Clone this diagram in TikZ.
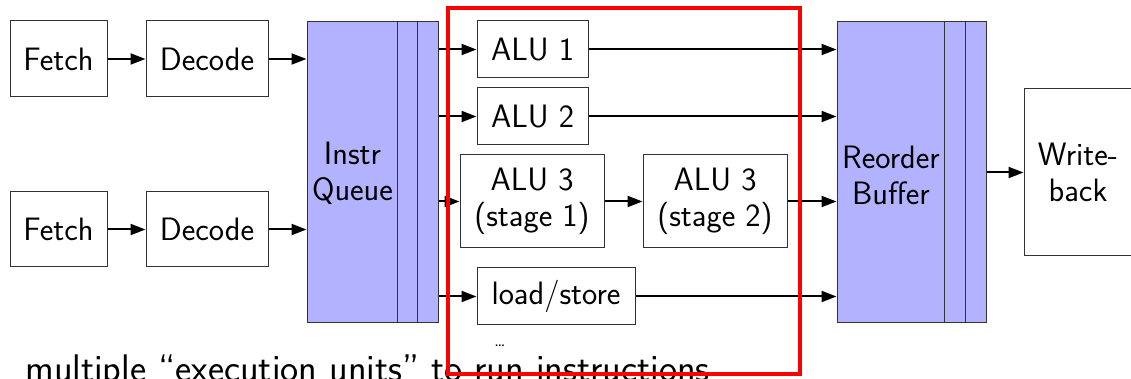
\documentclass[tikz,border=0pt]{standalone}
\usetikzlibrary{arrows.meta}
\begin{document}
\begin{tikzpicture}[x=0.5pt,y=-0.5pt,
  font=\sffamily\fontsize{16.2}{18}\selectfont,
  blk/.style={draw=black!80, line width=0.5pt, fill=white, inner sep=0pt, align=center},
  buf/.style={draw=black!80, line width=0.5pt, fill=blue!30, inner sep=0pt},
  arr/.style={-{Triangle[length=7.5pt,width=5.5pt]}, line width=1pt},
  hilite/.style={draw=red, line width=2pt, inner sep=0pt},
]
\clip (0,0) rectangle (1131,379);

% front end: two fetch/decode pipelines
\node[blk, minimum width=48.5pt, minimum height=38pt]   (f1) at (58.5,59)   {Fetch};
\node[blk, minimum width=61pt,   minimum height=38pt]   (d1) at (207,59)    {Decode};
\node[blk, minimum width=48.5pt, minimum height=37.5pt] (f2) at (58.5,229.5) {Fetch};
\node[blk, minimum width=61pt,   minimum height=37.5pt] (d2) at (207,229.5) {Decode};

% instruction queue with its slot dividers
\node[buf, minimum width=65.5pt, minimum height=150.75pt] (q) at (372.5,172.25) {};
\draw[draw=black!80, line width=0.5pt] ([xshift=45.5pt]q.north west) -- ([xshift=45.5pt]q.south west);
\draw[draw=black!80, line width=0.5pt] ([xshift=55.5pt]q.north west) -- ([xshift=55.5pt]q.south west);
\node[align=center] (qt) at (352.5,173) {Instr\\Queue};

% execution units
\node[blk, minimum width=55.5pt, minimum height=28.5pt] (a1)  at (532.5,49.5)  {ALU 1};
\node[blk, minimum width=55.5pt, minimum height=28.5pt] (a2)  at (532.5,116.5) {ALU 2};
\node[blk, minimum width=72pt,   minimum height=46.5pt] (a3a) at (532,201.5)   {ALU 3\\(stage 1)};
\node[blk, minimum width=72pt,   minimum height=46.5pt] (a3b) at (715,201.5)   {ALU 3\\(stage 2)};
\node[blk, minimum width=79pt,   minimum height=28.5pt] (ls)  at (556,296.5)   {load/store};
\node[font=\sffamily\fontsize{9}{10}\selectfont, inner sep=0pt] (dots) at (500,346) {\ldots};

% reorder buffer with its slot dividers
\node[buf, minimum width=74.5pt, minimum height=150.75pt] (rob) at (911.5,172.25) {};
\draw[draw=black!80, line width=0.5pt] ([xshift=54pt]rob.north west) -- ([xshift=54pt]rob.south west);
\draw[draw=black!80, line width=0.5pt] ([xshift=64.5pt]rob.north west) -- ([xshift=64.5pt]rob.south west);
\node[align=center] (rt) at (891,175) {Reorder\\Buffer};

% write-back stage
\node[blk, minimum width=54pt, minimum height=83.5pt] (wb) at (1078,172.5) {Write-\\back};

% connections
\draw[arr] (f1) -- (d1);
\draw[arr] (f2) -- (d2);
\draw[arr] (d1.east) -- (d1.east -| q.west);
\draw[arr] (d2.east) -- (d2.east -| q.west);
\draw[arr] (a1.west -| q.east) -- (a1.west);
\draw[arr] (a2.west -| q.east) -- (a2.west);
\draw[arr] (a3a.west -| q.east) -- (a3a.west);
\draw[arr] (ls.west -| q.east) -- (ls.west);
\draw[arr] (a1.east) -- (a1.east -| rob.west);
\draw[arr] (a2.east) -- (a2.east -| rob.west);
\draw[arr] (a3a) -- (a3b);
\draw[arr] (a3b.east) -- (a3b.east -| rob.west);
\draw[arr] (ls.east) -- (ls.east -| rob.west);
\draw[arr] (rob.east |- wb.west) -- (wb.west);

% caption
\node[anchor=base west, inner sep=0pt, font=\sffamily\fontsize{19.25}{23}\selectfont] (cap) at (25,382) {multiple ``execution units'' to run instructions};

% highlight around the execution units
\node[hilite, minimum width=176pt, minimum height=182.75pt] (hl) at (624,191.25) {};
\end{tikzpicture}
\end{document}
